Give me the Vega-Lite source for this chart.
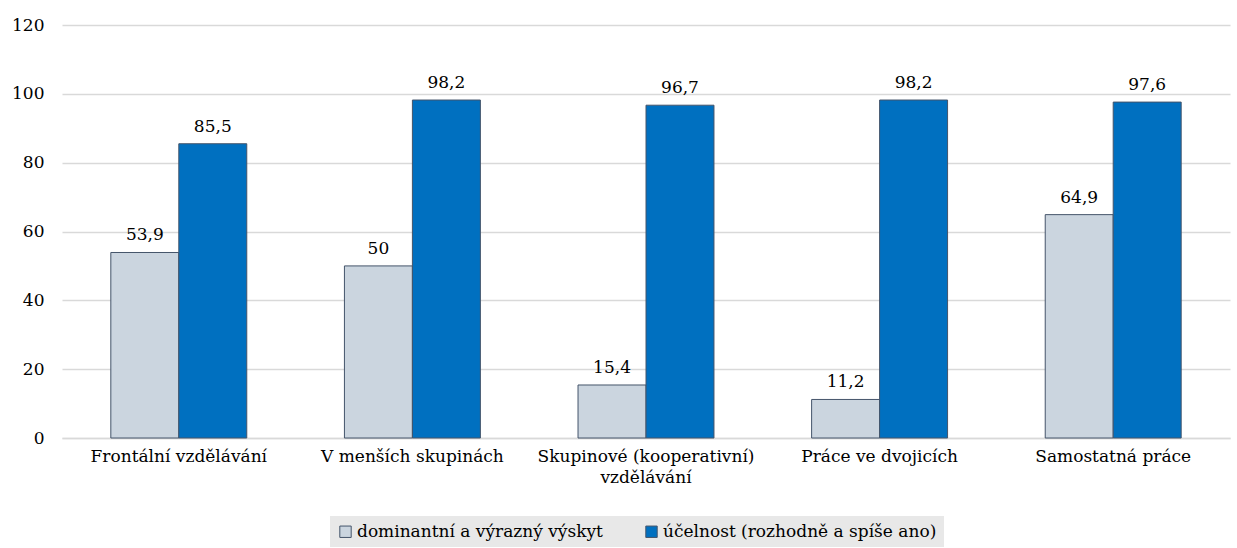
{
  "$schema": "https://vega.github.io/schema/vega-lite/v6.json",
  "width": 1168,
  "height": 413,
  "autosize": {"type": "none"},
  "padding": {"left": 62, "top": 25, "right": 7, "bottom": 110},
  "background": "white",
  "config": {
    "locale": {"number": {"decimal": ",", "thousands": " ", "grouping": [3], "currency": ["", " Kč"]}},
    "font": "DejaVu Serif",
    "axis": {"labelFont": "DejaVu Serif"},
    "legend": {"labelFont": "DejaVu Serif"},
    "text": {"font": "DejaVu Serif"},
    "view": {"stroke": null}
  },
  "data": {"values": [
    {"kategorie": "Frontální vzdělávání", "serie": "dominantní a výrazný výskyt", "hodnota": 53.9},
    {"kategorie": "Frontální vzdělávání", "serie": "účelnost (rozhodně a spíše ano)", "hodnota": 85.5},
    {"kategorie": "V menších skupinách", "serie": "dominantní a výrazný výskyt", "hodnota": 50},
    {"kategorie": "V menších skupinách", "serie": "účelnost (rozhodně a spíše ano)", "hodnota": 98.2},
    {"kategorie": "Skupinové (kooperativní) vzdělávání", "serie": "dominantní a výrazný výskyt", "hodnota": 15.4},
    {"kategorie": "Skupinové (kooperativní) vzdělávání", "serie": "účelnost (rozhodně a spíše ano)", "hodnota": 96.7},
    {"kategorie": "Práce ve dvojicích", "serie": "dominantní a výrazný výskyt", "hodnota": 11.2},
    {"kategorie": "Práce ve dvojicích", "serie": "účelnost (rozhodně a spíše ano)", "hodnota": 98.2},
    {"kategorie": "Samostatná práce", "serie": "dominantní a výrazný výskyt", "hodnota": 64.9},
    {"kategorie": "Samostatná práce", "serie": "účelnost (rozhodně a spíše ano)", "hodnota": 97.6}
  ]},
  "encoding": {
    "x": {
      "field": "kategorie", "type": "nominal", "sort": null,
      "scale": {"paddingInner": 0.418, "paddingOuter": 0.209},
      "axis": {
        "title": null, "labelAngle": 0, "labelFontSize": 17, "labelColor": "#000000",
        "labelPadding": 10, "ticks": false, "domainColor": "#d9d9d9", "domainWidth": 1.5,
        "labelLimit": 300, "labelLineHeight": 21,
        "labelExpr": "datum.value == 'Skupinové (kooperativní) vzdělávání' ? ['Skupinové (kooperativní)', 'vzdělávání'] : datum.value"
      }
    },
    "xOffset": {"field": "serie", "type": "nominal", "sort": null, "scale": {"paddingInner": 0}},
    "y": {
      "field": "hodnota", "type": "quantitative",
      "scale": {"domain": [0, 120], "nice": false},
      "axis": {
        "title": null, "values": [0, 20, 40, 60, 80, 100, 120], "labelFontSize": 17,
        "labelColor": "#000000", "labelPadding": 18, "ticks": false, "domain": false,
        "gridColor": "#d9d9d9", "gridWidth": 1.5
      }
    }
  },
  "layer": [
    {
      "mark": {"type": "bar", "stroke": "#44546a", "strokeWidth": 1},
      "encoding": {
        "color": {
          "field": "serie", "type": "nominal", "sort": null,
          "scale": {"domain": ["dominantní a výrazný výskyt", "účelnost (rozhodně a spíše ano)"], "range": ["#cbd5df", "#0070c0"]},
          "legend": {
            "title": null, "orient": "none", "legendX": 268, "legendY": 491, "direction": "horizontal",
            "labelFontSize": 17, "labelColor": "#000000", "symbolType": "square",
            "symbolSize": 130, "symbolStrokeColor": "#44546a", "symbolStrokeWidth": 1,
            "fillColor": "#e8e8e8", "padding": 7, "columnPadding": 40,
            "labelOffset": 3, "labelLimit": 400
          }
        }
      }
    },
    {
      "mark": {"type": "text", "baseline": "bottom", "dy": -8, "fontSize": 17, "color": "#000000"},
      "encoding": {
        "text": {"field": "hodnota", "type": "quantitative", "format": ".1~f"}
      }
    }
  ]
}
